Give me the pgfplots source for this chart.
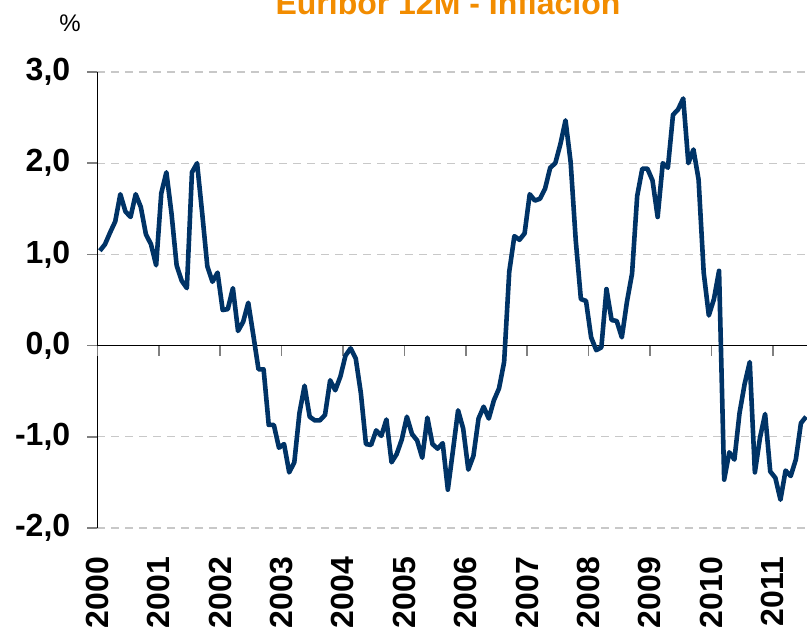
\documentclass[border=0pt]{standalone}
\usepackage{fontspec}
\setmainfont{Liberation Sans}
\usepackage{pgfplots}
\pgfplotsset{compat=1.18}
\usepackage{pgfplotstable}
\definecolor{navy}{RGB}{0,51,102}
\definecolor{titleorange}{RGB}{242,140,0}
\definecolor{gridgray}{RGB}{200,200,200}
\pgfplotstableread{
m v
0.5 1.04
1.5 1.11
2.5 1.24
3.5 1.36
4.5 1.66
5.5 1.47
6.5 1.41
7.5 1.66
8.5 1.52
9.5 1.22
10.5 1.11
11.5 0.88
12.5 1.67
13.5 1.90
14.5 1.45
15.5 0.88
16.5 0.71
17.5 0.63
18.5 1.90
19.5 2.00
20.5 1.45
21.5 0.87
22.5 0.70
23.5 0.80
24.5 0.39
25.5 0.40
26.5 0.63
27.5 0.16
28.5 0.26
29.5 0.47
30.5 0.11
31.5 -0.26
32.5 -0.26
33.5 -0.87
34.5 -0.87
35.5 -1.12
36.5 -1.08
37.5 -1.39
38.5 -1.28
39.5 -0.74
40.5 -0.44
41.5 -0.78
42.5 -0.82
43.5 -0.82
44.5 -0.76
45.5 -0.38
46.5 -0.49
47.5 -0.34
48.5 -0.11
49.5 -0.03
50.5 -0.14
51.5 -0.52
52.5 -1.08
53.5 -1.09
54.5 -0.93
55.5 -0.99
56.5 -0.81
57.5 -1.28
58.5 -1.19
59.5 -1.03
60.5 -0.78
61.5 -0.97
62.5 -1.04
63.5 -1.23
64.5 -0.79
65.5 -1.08
66.5 -1.13
67.5 -1.07
68.5 -1.58
69.5 -1.15
70.5 -0.71
71.5 -0.91
72.5 -1.36
73.5 -1.21
74.5 -0.80
75.5 -0.67
76.5 -0.80
77.5 -0.60
78.5 -0.47
79.5 -0.18
80.5 0.81
81.5 1.20
82.5 1.16
83.5 1.23
84.5 1.66
85.5 1.59
86.5 1.61
87.5 1.72
88.5 1.95
89.5 2.00
90.5 2.21
91.5 2.47
92.5 2.01
93.5 1.15
94.5 0.51
95.5 0.49
96.5 0.09
97.5 -0.05
98.5 -0.02
99.5 0.62
100.5 0.28
101.5 0.27
102.5 0.09
103.5 0.48
104.5 0.79
105.5 1.64
106.5 1.94
107.5 1.94
108.5 1.81
109.5 1.41
110.5 2.00
111.5 1.95
112.5 2.53
113.5 2.59
114.5 2.71
115.5 2.00
116.5 2.15
117.5 1.82
118.5 0.80
119.5 0.33
120.5 0.51
121.5 0.82
122.5 -1.47
123.5 -1.17
124.5 -1.25
125.5 -0.74
126.5 -0.42
127.5 -0.18
128.5 -1.39
129.5 -1.01
130.5 -0.75
131.5 -1.38
132.5 -1.45
133.5 -1.69
134.5 -1.37
135.5 -1.43
136.5 -1.25
137.5 -0.85
138.5 -0.78
}\euribordata
\begin{document}
\begin{tikzpicture}
\useasboundingbox (0,0) rectangle (403.5pt,315pt);
\clip (0,0) rectangle (403.5pt,315pt);
\pgfplotsset{base/.style={scale only axis, width=355.65pt, height=228pt,
  xmin=0, xmax=139, ymin=-2, ymax=3, at={(48.65pt,51pt)}, anchor=south west}}
% axis 1: grid, y axis, labels
\begin{axis}[base,
  axis y line*=left, axis x line*=bottom,
  x axis line style={draw=none},
  y axis line style={black, line width=0.8pt},
  ytick={-2,-1,0,1,2,3},
  xtick={0,12,24,36,48,60,72,84,96,108,120,132},
  xticklabels={2000,2001,2002,2003,2004,2005,2006,2007,2008,2009,2010,2011},
  ymajorgrids,
  grid style={gridgray, dash pattern=on 4pt off 3pt, line width=0.6pt},
  tick align=outside, major tick length=5pt,
  ytick style={gray, line width=0.8pt},
  xtick style={draw=none},
  /pgf/number format/assume math mode=true,
  yticklabel shift=5pt,
  xticklabel shift=6pt,
  yticklabel style={font=\bfseries\fontsize{16}{16}\selectfont, anchor=east,
    /pgf/number format/.cd, fixed, fixed zerofill, precision=1, use comma},
  xticklabel style={font=\bfseries\fontsize{16}{16}\selectfont, rotate=90, anchor=east},
]
\end{axis}
% axis 2: zero line with year ticks
\begin{axis}[base,
  axis x line=middle, axis y line=none,
  x axis line style={black, line width=0.8pt, -},
  xtick={0,12,24,36,48,60,72,84,96,108,120,132},
  xticklabels={}, ytick=\empty,
  tick align=outside, major tick length=5pt,
  xtick style={gray, line width=0.8pt},
]
\end{axis}
% axis 3: data
\begin{axis}[base, hide axis, clip=false]
\addplot[navy, line width=2.3pt, line join=round] table[x=m, y=v] {\euribordata};
\end{axis}
\node[anchor=base, inner sep=0pt, text=titleorange, font=\bfseries\fontsize{16}{16}\selectfont] at (224pt,307.5pt) {Euribor 12M - Inflación};
\node[inner sep=0pt, font=\fontsize{12}{12}\selectfont] at (35pt,303.5pt) {\%};
\end{tikzpicture}
\end{document}
